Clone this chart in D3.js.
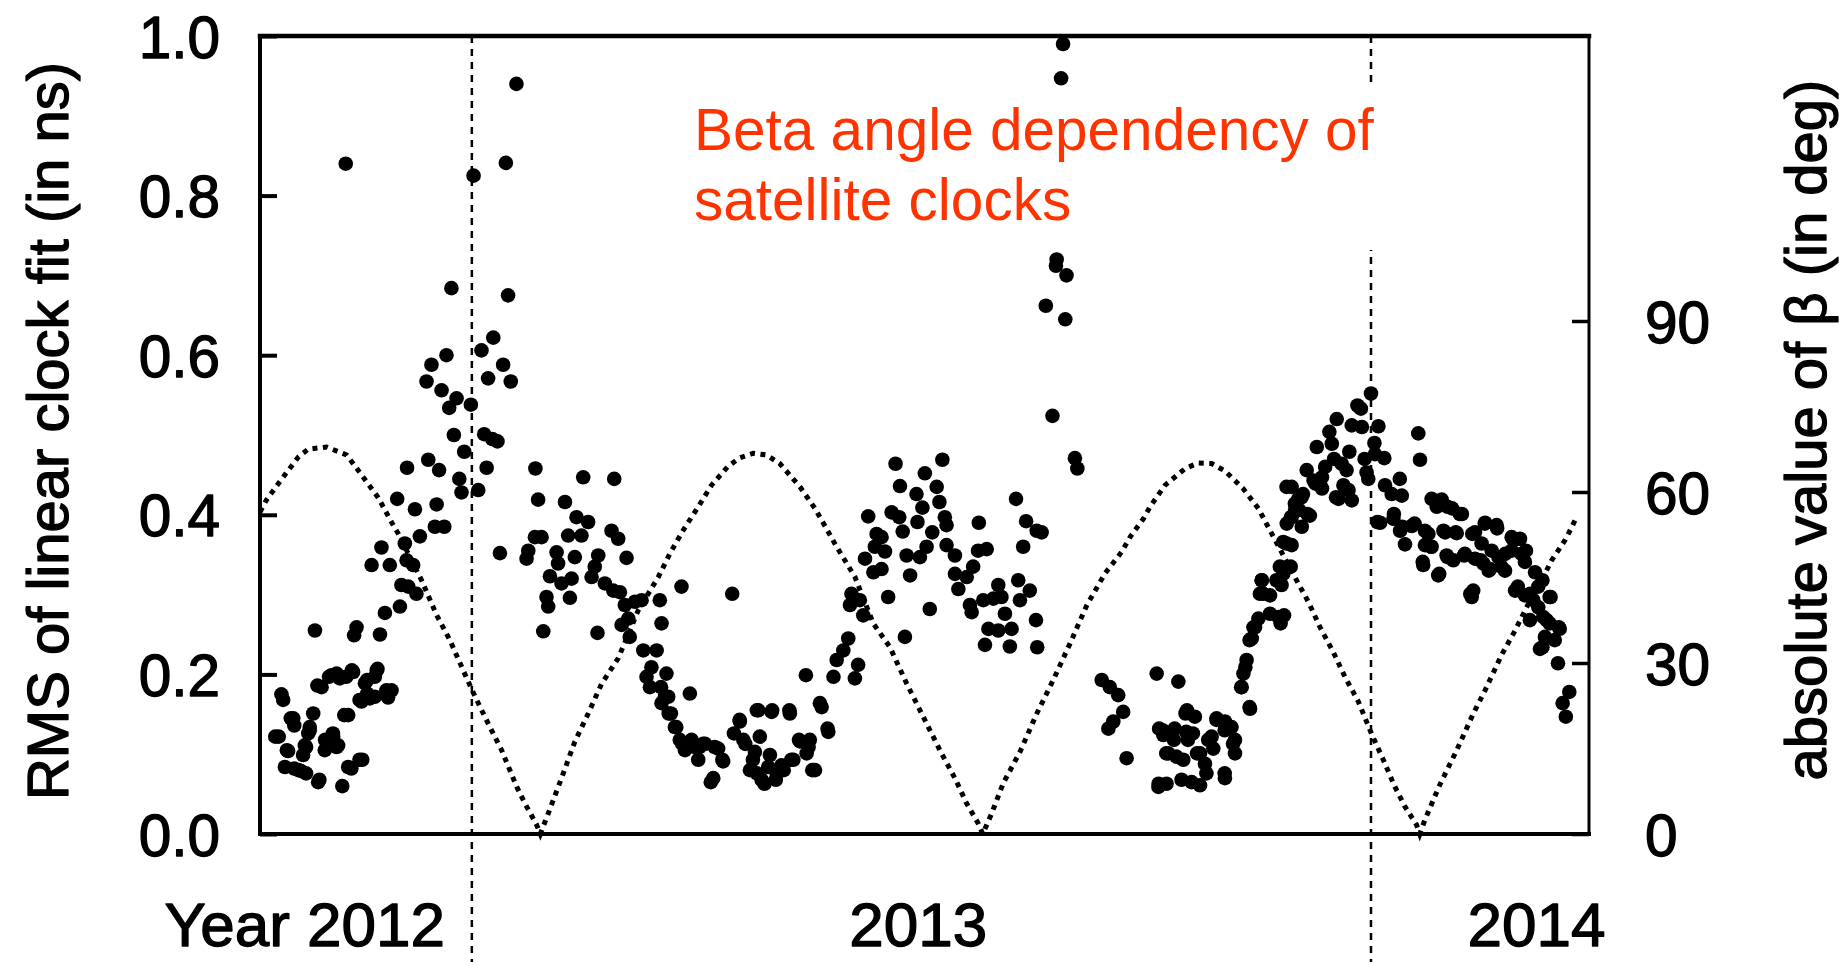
<!DOCTYPE html>
<html>
<head>
<meta charset="utf-8">
<script src="https://cdn.jsdelivr.net/npm/d3@7"></script>
<style>
html,body{margin:0;padding:0;background:#fff;overflow:hidden}
text{font-family:"Liberation Sans",Arial,Helvetica,sans-serif}
</style>
</head>
<body>
<svg id="chart" width="1847" height="962"></svg>
<script>
// x values: days since 2013-01-01 ; RMS in ns ; beta in degrees
const rmsLate2012 = [
[-51.2,0.840],
[-8.3,0.684],[-10.3,0.600],[-16.4,0.588],[-18.4,0.567],[-12.3,0.556],[-6.2,0.546],[-9.2,0.534],[-0.4,0.538],[-7.3,0.500],[-3.1,0.479],[-17.7,0.469],[-26.3,0.459],[-13.3,0.456],[-5.1,0.445],[-4.2,0.428],[-30.3,0.420],[-23.1,0.407],[-14.3,0.413],[-15,0.385],[-11.2,0.385],[-21.1,0.373],
[-77.3,0.175],[-76.6,0.168],[-72.5,0.145],[-72.1,0.136],[-78.4,0.122],[-74.6,0.104],[-75.9,0.084],[-72.1,0.082],[-69.4,0.079],[-64.4,0.151],[-65.8,0.134],[-66.4,0.126],[-67.8,0.111],[-68.5,0.099],[-62.4,0.065],[-61,0.184],[-57,0.199],[-53.6,0.195],[-59.7,0.105],[-56.3,0.122],[-54.3,0.111],[-52.6,0.060],[-50.2,0.149],[-48.9,0.082],[-44.5,0.093],[-48.2,0.203],[-43.4,0.189],[-44.8,0.166],[-41.4,0.170],[-39.4,0.197],[-38.3,0.207],[-32.6,0.180],[-34,0.171],[-63.7,0.255],[-46.8,0.259],[-47.8,0.249],[-37.3,0.250],[-35.3,0.277],[-29.2,0.285],[-28.6,0.312],[-25.8,0.310],[-22.5,0.301],[-40.7,0.337],[-33.3,0.337],[-26.5,0.343],[-23.8,0.337],[-36.7,0.359],[-27.2,0.364],
[-79.8,0.122],[-73.5,0.145],[-75.1,0.105],[-70.4,0.080],[-67.3,0.076],[-65.8,0.130],[-67.3,0.109],[-61.9,0.068],[-62.7,0.186],[-58,0.197],[-54.9,0.201],[-51,0.197],[-48.7,0.205],[-59.6,0.118],[-56.4,0.126],[-54.9,0.109],[-51.8,0.149],[-50.2,0.084],[-45.6,0.093],[-42.5,0.193],[-38.6,0.205],[-45.6,0.168],[-42.5,0.176],[-34.7,0.180],[-39.4,0.172]
];
const rmsEarly2013 = [
[0.7,0.825],[13.8,0.841],[18.1,0.940],
[14.7,0.675],[8.7,0.622],[3.9,0.606],[12.7,0.588],[6.6,0.571],[15.8,0.567],[5.0,0.501],[8.3,0.495],[10.4,0.492],[6.0,0.459],[2.6,0.431],[25.8,0.458],[26.9,0.419],[37.8,0.416],[45.2,0.447],[57.8,0.445],[42.5,0.397],[47.2,0.391],[25.6,0.372],[28.3,0.372],[39.1,0.374],[44.5,0.374],[56.7,0.380],[59.4,0.370],
[11.4,0.352],[22.9,0.355],[22.2,0.345],[34.4,0.353],[35,0.339],[41.8,0.347],[51.3,0.349],[49.9,0.335],[62.8,0.346],[31.7,0.323],[36.4,0.314],[40.5,0.320],[30.3,0.297],[31,0.285],[39.8,0.296],[48.6,0.322],[54,0.314],[57.4,0.305],[60.1,0.303],[62.1,0.287],[66.2,0.291],[68.9,0.293],[60.8,0.262],[64.1,0.247],[63.5,0.270],[29,0.254],[51,0.252],[76.3,0.293],[77,0.264],[85.1,0.310],[69.6,0.230],[75,0.230],[72.9,0.209],[70.9,0.197],[72.3,0.184],[79,0.201],[79.7,0.172],[77,0.164],[88.5,0.176],[80.8,0.151],[82.4,0.134],[84.4,0.118],[86.5,0.105],[90.5,0.109],[91.9,0.093],
[83,0.134],[85.4,0.113],[89.2,0.118],[79.9,0.151],[78.4,0.172],[76.8,0.184]
];
const rmsMid2013 = [
[105.7,0.301],
[93.9,0.113],[100,0.107],[102,0.091],[98,0.070],[108.8,0.141],[110.2,0.118],[114.9,0.103],[112.9,0.080],[117.6,0.068],[116.3,0.155],[121.7,0.153],[129.1,0.151],[142,0.159],[144.7,0.128],[116.9,0.122],[121,0.099],[125.7,0.086],[130.5,0.093],[133.2,0.116],[137.2,0.118],[135.9,0.101],[139.3,0.080],[123.7,0.076],
[92.4,0.109],[94.7,0.113],[98.6,0.109],[101.7,0.093],[97,0.065],[106.4,0.126],[108.7,0.143],[111,0.113],[114.1,0.093],[115.7,0.076],[118.8,0.063],[120.3,0.084],[123.4,0.068],[126.6,0.080],[129.7,0.093],[132.8,0.118],[136.7,0.109],[138.2,0.080],[115.7,0.155],[121.9,0.155],[128.9,0.155],[141.3,0.164],[144.4,0.132],
[135.6,0.199],[146.8,0.197],[148.1,0.218],[150.8,0.230],[152.8,0.245],[155.5,0.195],[156.8,0.212],[175.8,0.247],
[153.5,0.287],[154.1,0.301],[157.5,0.293],[158.9,0.274],[159.6,0.345],[163,0.328],[163.6,0.360],[166.3,0.332],[167.7,0.354],[169,0.297],[176.5,0.349],[177.9,0.324],[181.9,0.347],[184.6,0.360],[185.9,0.282],
[160.9,0.398],[164.3,0.376],[166.3,0.372],[170.4,0.403],[172,0.464],[173.5,0.397],[173.8,0.436],[174.9,0.379],[180.5,0.426],[180.9,0.391],[182.9,0.409],[183.9,0.452],[186.9,0.378],[188.7,0.435],[189.8,0.416],[191,0.469],[192,0.397],[192.7,0.387],
[192.7,0.362],[196.1,0.349],[196.1,0.326],[197.5,0.307],[200.9,0.322],[202.2,0.287],[202.9,0.278],[203.5,0.335],[205.5,0.355],[205.8,0.390],[207.6,0.293],[208.3,0.237],[209,0.357],[209.7,0.257],[211.7,0.295],[213.7,0.312],[213.7,0.255],[215,0.297],[216.4,0.276],[218.4,0.235],[219.1,0.257],[220.9,0.420],[221.8,0.318],[222.5,0.293],[223.8,0.360],[225,0.392],[226.5,0.305],[229,0.268],[229.3,0.380],[229.5,0.234],[231.3,0.378],
[233,0.662],[235.7,0.524],[237.1,0.712],[237.4,0.720],[239.2,0.947],[240,0.990],[240.9,0.645],[241.4,0.700],[244.8,0.471],[245.8,0.458],
[255.7,0.193],[258.4,0.132],[259,0.184],[260.4,0.141],[262.4,0.174],[264.4,0.153],[265.8,0.095]
];
const rmsLate2013 = [
[278,0.201],[286.8,0.191],[290.3,0.155],[293.5,0.147],[279,0.132],[280.7,0.124],[285.3,0.132],[290,0.128],[290.7,0.118],[302.3,0.145],[305.7,0.141],[308.4,0.134],[300.3,0.122],[301,0.107],[309.8,0.118],[309.8,0.101],[282.7,0.101],[286,0.097],[288.8,0.093],[295.6,0.101],[297.6,0.088],[298.2,0.076],[292.2,0.065],[295.6,0.061],[278.7,0.059],[282,0.063],[305.7,0.070],
[280.4,0.130],[285,0.118],[289.7,0.151],[281.9,0.101],[278.8,0.063],[288.1,0.068],[292.7,0.126],[294.4,0.101],[298.9,0.118],[302.3,0.143],[305.6,0.130],[309,0.113],[305.6,0.076],
[315.9,0.157],[312.5,0.184],[313.2,0.201],[314.5,0.218],[316.6,0.245],[317.9,0.259],[319.3,0.270],[328.3,0.264],[329.7,0.274],[321.3,0.301],[324,0.299],[320.6,0.318],[328.7,0.312],[329.4,0.326],[328,0.335],[332.8,0.362],[329.4,0.366],
[320.7,0.318],[319.9,0.301],[326.6,0.318],[327.4,0.272],[324,0.276],[317.3,0.259],[315.7,0.243],[314,0.209],[312.3,0.184],[315.7,0.159],[330.7,0.364],[332.4,0.335],[335.8,0.406],
[330.8,0.389],[332.8,0.397],[334.2,0.406],[336.9,0.385],[340.2,0.399],[332.8,0.435],[335.5,0.420],[336.8,0.422],[338.9,0.456],[341.7,0.443],[343,0.485],[345.1,0.447],[345.1,0.433],[346.4,0.460],[348.1,0.504],[349.1,0.489],[350,0.470],[351.1,0.520],[351.8,0.420],[353.1,0.464],[353.8,0.437],[355.1,0.456],[356.2,0.479],[357.2,0.512],[357.2,0.418],[359.5,0.537],[360.9,0.533],[361.3,0.510],[362.4,0.470],[363.2,0.453],[363.9,0.445],
[330.7,0.435],[337.4,0.426],[342.5,0.439],[350.8,0.422],[355.9,0.431],[334.1,0.414],[332.5,0.397],[339.2,0.401]
];
const rmsEarly2014 = [
[365,0.552],[366.4,0.490],[366.6,0.476],[368,0.511],[368.7,0.390],[370.4,0.471],[370.7,0.437],[373.4,0.426],[374.1,0.395],[376.7,0.445],[376.8,0.380],[377.5,0.424],[381.5,0.386],[384.2,0.502],[384.9,0.469],[388.3,0.376],[389.6,0.420],[391.7,0.410],[393.7,0.419],[395.1,0.378],[397.9,0.408],[399.8,0.377],[401.9,0.401],[407.2,0.378],[411.3,0.390],[416,0.387],[422.1,0.372],[425.5,0.370],
[378.8,0.363],[386.2,0.337],[386.9,0.362],[389.6,0.360],[392.3,0.324],[395.7,0.349],[398.4,0.343],[403.1,0.351],[407.2,0.345],[409.9,0.364],[414,0.355],[416.7,0.347],[419.4,0.330],[410.6,0.339],[413.3,0.332],[406.5,0.305],[405.9,0.297],[422.1,0.355],[426.1,0.351],[427.5,0.341],[431.6,0.328],[423.5,0.305],[427.5,0.299],[430.9,0.293],[432.9,0.310],[437.5,0.297],[429.5,0.268],[434.9,0.272],[437.5,0.264],[441.6,0.257],[435.6,0.247],[433.6,0.232],[440.9,0.214],[445.5,0.178],[442.8,0.164],[444.1,0.147],
[367.6,0.391],[374.3,0.401],[377.7,0.385],[382.7,0.389],[386.9,0.380],[389.4,0.360],[386,0.341],[392.7,0.326],[394.4,0.380],[399.4,0.378],[396.1,0.347],[402.8,0.349],[406.1,0.376],[411.2,0.389],[416.2,0.383],[409.5,0.343],[412.8,0.330],[417.9,0.335],[422.9,0.368],[427.9,0.355],[424.6,0.310],[429.6,0.301],[434.6,0.318],[432.9,0.284],[437.9,0.297],[436.3,0.268],[441.3,0.259],[434.6,0.234],[439.6,0.243],[391,0.418],[396.1,0.410],[401.1,0.401],[405.3,0.301],[419.5,0.351]
];
const betaAngle = [
[-86,56.5],[-83.4,58.6],[-77.3,62.2],[-70.5,66.1],[-66.5,67.5],[-59,67.9],[-50.8,66.5],[-44.1,62.6],[-38,59],[-32.6,54.7],[-29.9,52.7],[-20.4,44.5],[-14.3,38.4],[-8.9,34],[-3.5,28.7],[1.2,24.2],[6.6,19.4],[12.1,14.7],[18.2,8.3],[21.5,5.4],[26.3,1.6],[27.8,0],
[31,3.6],[36.4,9.8],[41.8,16.2],[47.2,21.1],[52.7,26.4],[59.4,30.8],[67.6,39.3],[75.7,45.1],[80.4,49.2],[85.8,53.3],[91.9,57.4],[97.3,61.2],[104,64.5],[108.8,66],[114.2,66.8],[119.6,66.5],[125,65],[129.8,62.6],[133.2,60.9],[139.3,57.1],[144.7,53],[147.4,50.9],[155.5,45.1],[163,36.9],[169.7,32.8],[176.5,26.4],[183.2,20.6],[190.7,14.1],[196.1,9.8],[200.8,5.4],[205.5,1.9],[207.4,0],
[211,3.6],[215.7,8.9],[222.5,14.4],[229.3,21.1],[236,27],[242.8,33.4],[249.6,40.1],[257,45.7],[263.8,49.5],[267.2,52.1],[272.6,55.3],[275.3,57.4],[281.4,61.2],[289.5,64.1],[294.9,65.1],[300.3,65],[305.7,63.7],[313.1,60.6],[319.3,57.1],[324.7,52.7],[334.8,44.5],[339.6,40.7],[344.3,36.3],[349.7,31.9],[354.4,27.6],[359.9,23.2],[365.2,17.6],[370,13],[374.7,8.3],[378.8,4.8],[383.5,1.6],[384.8,0],
[386.9,2.5],[392.9,8.6],[399.8,14.7],[406.5,21.1],[411.3,25.2],[418,31.4],[423.5,35.7],[428.9,40.4],[434.3,44.5],[438.3,48],[443.7,51.5],[446.5,53.8],[448.2,55.4]
];
const leftTicks = [0, 0.2, 0.4, 0.6, 0.8, 1.0];
const rightTicks = [0, 30, 60, 90];
const yearStartDays = [0, 365];
const yearLabels = ["Year 2012", "2013", "2014"];
const yearLabelDays = [-68, 181, 432];
const titleLines = ["Beta angle dependency of", "satellite clocks"];
const leftTitle = "RMS of linear clock fit (in ns)";
const rightTitle = "absolute value of \u03B2 (in deg)";

const FONT = '"Liberation Sans", Arial, Helvetica, sans-serif';
const TXT_STROKE = 1.3;
const svg = d3.select("#chart");
const L = 260, R = 1589, T = 36, B = 834;

const x = d3.scaleLinear().domain([-86, 453.5]).range([L, R]);
const yL = d3.scaleLinear().domain([0, 1]).range([B, T]);
const yR = d3.scaleLinear().domain([0, 140]).range([B, T]);

function styleText(sel, size) {
  sel.attr("font-size", size).attr("font-family", FONT).attr("fill", "#000")
     .attr("stroke", "#000").attr("stroke-width", TXT_STROKE).attr("stroke-linejoin", "round");
}

// dashed year boundaries
svg.append("g").selectAll("line").data(yearStartDays).join("line")
  .attr("x1", d => x(d)).attr("x2", d => x(d))
  .attr("y1", T).attr("y2", 962)
  .attr("stroke", "#000").attr("stroke-width", 2.5)
  .attr("stroke-dasharray", "7,6");

// beta angle dotted curve
const line = d3.line().x(d => x(d[0])).y(d => yR(d[1])).curve(d3.curveLinear);
svg.append("path").datum(betaAngle)
  .attr("d", line)
  .attr("fill", "none").attr("stroke", "#000")
  .attr("stroke-width", 5).attr("stroke-dasharray", "5,5.5");

// left axis
const axL = svg.append("g").attr("transform", `translate(${L},0)`)
  .call(d3.axisLeft(yL).tickValues(leftTicks).tickSize(-17).tickPadding(40).tickFormat(d3.format(".1f")));
axL.select(".domain").remove();
axL.selectAll("line").attr("stroke", "#000").attr("stroke-width", 4);
styleText(axL.selectAll("text"), 58.5);
axL.selectAll("text").attr("dy", "0.36em");

// right axis
const axR = svg.append("g").attr("transform", `translate(${R},0)`)
  .call(d3.axisRight(yR).tickValues(rightTicks).tickSize(-17).tickPadding(56).tickFormat(d3.format("d")));
axR.select(".domain").remove();
axR.selectAll("line").attr("stroke", "#000").attr("stroke-width", 3.5);
styleText(axR.selectAll("text"), 58.5);
axR.selectAll("text").attr("dy", "0.36em");

// bottom year labels
const axB = svg.append("g").attr("transform", `translate(0,${B})`)
  .call(d3.axisBottom(x).tickValues(yearLabelDays).tickSize(0).tickPadding(68)
    .tickFormat((d, i) => yearLabels[i]));
axB.select(".domain").remove();
styleText(axB.selectAll("text"), 62);

// frame
const frame = svg.append("g").attr("stroke", "#000").attr("stroke-linecap", "square");
frame.append("line").attr("x1", L).attr("x2", R).attr("y1", T).attr("y2", T).attr("stroke-width", 4.5);
frame.append("line").attr("x1", L).attr("x2", R).attr("y1", B).attr("y2", B).attr("stroke-width", 4);
frame.append("line").attr("x1", L).attr("x2", L).attr("y1", T).attr("y2", B).attr("stroke-width", 4);
frame.append("line").attr("x1", R).attr("x2", R).attr("y1", T).attr("y2", B).attr("stroke-width", 3);

// annotation with white box
svg.append("rect").attr("x", 688).attr("y", 84).attr("width", 692).attr("height", 166).attr("fill", "#fff");
svg.append("g").selectAll("text").data(titleLines).join("text")
  .attr("x", 694).attr("y", (d, i) => 150 + i * 70)
  .attr("font-size", 58.5).attr("font-family", FONT).attr("fill", "#ff3300")
  .text(d => d);

// scatter points
const allRms = [].concat(rmsLate2012, rmsEarly2013, rmsMid2013, rmsLate2013, rmsEarly2014);
svg.append("g").selectAll("circle").data(allRms).join("circle")
  .attr("cx", d => x(d[0])).attr("cy", d => yL(d[1])).attr("r", 7.3).attr("fill", "#000");

// axis titles
styleText(svg.append("text").attr("transform", "translate(68,431) rotate(-90)")
  .attr("text-anchor", "middle").text(leftTitle), 58);
styleText(svg.append("text").attr("transform", "translate(1826,430) rotate(-90)")
  .attr("text-anchor", "middle").text(rightTitle), 58);
</script>
</body>
</html>
